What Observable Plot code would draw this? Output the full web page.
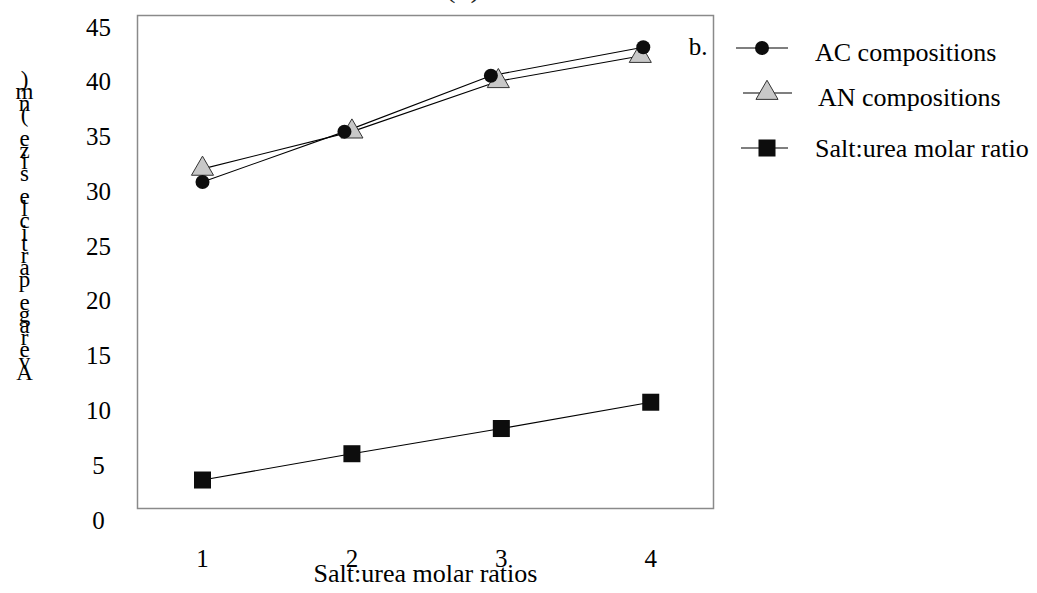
<!DOCTYPE html>
<html>
<head>
<meta charset="utf-8">
<script src="https://cdn.jsdelivr.net/npm/d3@7"></script>
<script src="https://cdn.jsdelivr.net/npm/@observablehq/plot@0.6"></script>
<style>
  html, body { margin: 0; padding: 0; background: #fff; overflow: hidden; }
  #wrap { position: relative; width: 1037px; height: 593px; }
  #topTitle {
    position: absolute; top: -27.6px; left: 463px; transform: translateX(-50%);
    font-family: "Liberation Serif", "Times New Roman", serif; font-size: 30px; line-height: 30px;
    color: #222; white-space: nowrap;
  }
</style>
</head>
<body>
<div id="wrap"><div id="topTitle"></div></div>
<script>
// ---- data ----
const ratios = [1, 2, 3, 4];
const acX = [1.0, 1.95, 2.93, 3.95];
const acValues = [29.8, 34.4, 39.5, 42.1];
const anX = [1.0, 2.0, 2.98, 3.93];
const anValues = [31.0, 34.4, 39.0, 41.3];
const saltValues = [2.6, 5.0, 7.3, 9.7];
const yTicks = [0, 5, 10, 15, 20, 25, 30, 35, 40, 45];
const xTicks = [1, 2, 3, 4];
const seriesNames = ["AC compositions", "AN compositions", "Salt:urea molar ratio"];
const xLabel = "Salt:urea molar ratios";
const yLabel = "Average particle size (nm)";
const panelTag = "b.";
const topTitle = "(b)";

// ---- build tables ----
const acData = acValues.map((v, i) => ({x: acX[i], y: v}));
const anData = anValues.map((v, i) => ({x: anX[i], y: v}));
const saltData = saltValues.map((v, i) => ({x: ratios[i], y: v}));
// garbled stacked y label: characters upright, read bottom to top
const yLabelStacked = yLabel.split("").reverse().map(c => c === " " ? "\u00a0" : c).join("\n");

const font = "'Liberation Serif', 'Times New Roman', serif";

const chart = Plot.plot({
  width: 1037,
  height: 593,
  marginTop: 15,
  marginBottom: 85,
  marginLeft: 137,
  marginRight: 324,
  style: {fontFamily: font, fontSize: "24px", color: "#000", background: "#fff"},
  x: {domain: [0.565, 4.42]},
  y: {domain: [0, 45]},
  marks: [
    Plot.frame({stroke: "#8a8a8a", strokeWidth: 1.5}),
    Plot.axisY({ticks: yTicks, tickSize: 0, tickPadding: 39, textAnchor: "middle", dy: 12, fontSize: 25, label: null}),
    Plot.axisX({ticks: xTicks, tickSize: 0, tickPadding: 41, tickFormat: d3.format("d"), fontSize: 25, label: null}),
    Plot.text([xLabel], {text: d => d, frameAnchor: "bottom", dy: 73, fontSize: 26}),
    Plot.text([yLabelStacked], {text: d => d, frameAnchor: "left", dx: -113, dy: -32, lineHeight: 0.51, fontSize: 23, textAnchor: "middle"}),
    Plot.text([panelTag], {text: d => d, frameAnchor: "top-right", dx: -6, dy: 22, fontSize: 25, textAnchor: "end"}),
    Plot.line(acData, {x: "x", y: "y", stroke: "#000", strokeWidth: 1.1}),
    Plot.line(anData, {x: "x", y: "y", stroke: "#000", strokeWidth: 1.1}),
    Plot.line(saltData, {x: "x", y: "y", stroke: "#000", strokeWidth: 1.1}),
    Plot.dot(anData, {x: "x", y: "y", symbol: "triangle", r: 8.2, fill: "#c8c8c8", stroke: "#333", strokeWidth: 1}),
    Plot.dot(acData, {x: "x", y: "y", symbol: "circle", r: 7, fill: "#0d0d0d", stroke: "none"}),
    Plot.dot(saltData, {x: "x", y: "y", symbol: "square", r: 9.6, fill: "#0d0d0d", stroke: "none"})
  ]
});

document.getElementById("wrap").appendChild(chart);
document.getElementById("topTitle").textContent = topTitle;

// ---- legend (outside the frame, on the right) ----
const svg = d3.select(chart);
const leg = svg.append("g").attr("font-family", font).attr("font-size", 26).attr("text-anchor", "start");
const legendRows = [
  {name: seriesNames[0], y: 48, x1: 736, x2: 788, sx: 762, textX: 815, textY: 61, sym: d3.symbolCircle, size: Math.PI * 49, fill: "#0d0d0d", stroke: "none"},
  {name: seriesNames[1], y: 93, x1: 743, x2: 792, sx: 767, textX: 818, textY: 106, sym: d3.symbolTriangle, size: Math.PI * 8.2 * 8.2, fill: "#c8c8c8", stroke: "#333"},
  {name: seriesNames[2], y: 148, x1: 741, x2: 788, sx: 767, textX: 815, textY: 157, sym: d3.symbolSquare, size: Math.PI * 9.6 * 9.6, fill: "#0d0d0d", stroke: "none"}
];
legendRows.forEach(r => {
  leg.append("line").attr("x1", r.x1).attr("x2", r.x2).attr("y1", r.y).attr("y2", r.y)
    .attr("stroke", "#000").attr("stroke-width", 1.1);
  leg.append("path").attr("d", d3.symbol(r.sym, r.size)())
    .attr("transform", `translate(${r.sx},${r.y})`)
    .attr("fill", r.fill).attr("stroke", r.stroke).attr("stroke-width", 1);
  leg.append("text").attr("x", r.textX).attr("y", r.textY).attr("fill", "#000").text(r.name);
});
</script>
</body>
</html>
